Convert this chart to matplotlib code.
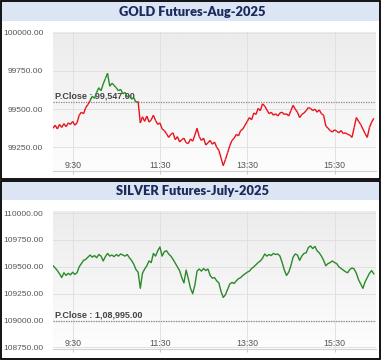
import numpy as np
import matplotlib
matplotlib.use("Agg")
import matplotlib.pyplot as plt
from matplotlib.collections import LineCollection
from matplotlib.patches import Rectangle

W, H = 384, 361

# ============================================================
# data
# ============================================================
# sample times: minutes after 9:00, one point every 3 minutes
minutes = np.arange(3, 3 + 3 * 148, 3)

gold_values = [
    99375, 99395, 99370, 99400, 99380, 99405, 99385, 99410, 99400, 99420,
    99395, 99410, 99460, 99480, 99470, 99510, 99530, 99555, 99585, 99570,
    99610, 99640, 99620, 99665, 99700, 99735, 99650, 99670, 99655, 99640,
    99620, 99630, 99600, 99610, 99580, 99590, 99565, 99575, 99545, 99550,
    99410, 99450, 99420, 99455, 99415, 99430, 99460, 99425, 99400, 99410,
    99370, 99360, 99340, 99315, 99335, 99345, 99300, 99320, 99285, 99300,
    99310, 99280, 99275, 99305, 99290, 99330, 99375, 99320, 99295, 99310,
    99265, 99280, 99295, 99270, 99285, 99250, 99230, 99180, 99130, 99170,
    99215, 99260, 99295, 99310, 99335, 99325, 99360, 99370, 99395, 99420,
    99445, 99430, 99475, 99465, 99505, 99490, 99535, 99520, 99495, 99470,
    99480, 99460, 99470, 99455, 99475, 99480, 99465, 99470, 99455, 99490,
    99525, 99500, 99480, 99445, 99465, 99475, 99490, 99510, 99505, 99490,
    99500, 99480, 99495, 99470, 99460, 99390, 99375, 99360, 99350, 99365,
    99355, 99345, 99360, 99340, 99345, 99335, 99330, 99315, 99380, 99445,
    99420, 99400, 99370, 99340, 99315, 99380, 99415, 99440,
]

silver_values = [
    109510, 109490, 109465, 109435, 109400, 109445, 109420, 109440, 109425, 109450,
    109430, 109445, 109500, 109530, 109560, 109570, 109590, 109610, 109590, 109605,
    109585, 109615, 109600, 109555, 109595, 109625, 109600, 109610, 109595, 109615,
    109600, 109620, 109610, 109600, 109615, 109585, 109560, 109525, 109475, 109450,
    109300, 109440, 109480, 109510, 109555, 109540, 109625, 109600, 109650, 109685,
    109600, 109640, 109650, 109620, 109600, 109570, 109535, 109500, 109465, 109400,
    109350, 109470, 109390, 109300, 109250, 109330, 109460, 109480, 109460, 109485,
    109465, 109480, 109420, 109395, 109400, 109370, 109350, 109270, 109215, 109240,
    109290, 109340, 109355, 109345, 109370, 109390, 109400, 109420, 109435, 109450,
    109460, 109485, 109500, 109520, 109540, 109555, 109580, 109620, 109600, 109615,
    109605, 109625, 109615, 109620, 109600, 109540, 109470, 109420, 109450, 109510,
    109590, 109620, 109610, 109560, 109600, 109625, 109630, 109680, 109695, 109670,
    109690, 109650, 109630, 109600, 109560, 109510, 109530, 109540, 109555, 109540,
    109530, 109500, 109485, 109470, 109455, 109445, 109475, 109490, 109480, 109440,
    109380, 109340, 109300, 109360, 109400, 109440, 109465, 109435,
]

gold_title = "GOLD Futures-Aug-2025"
silver_title = "SILVER Futures-July-2025"
gold_pclose = 99547
silver_pclose = 108995
gold_pclose_label = "P.Close : 99,547.00"
silver_pclose_label = "P.Close : 1,08,995.00"

time_ticks = [30, 150, 270, 390]
time_labels = ["9:30", "11:30", "13:30", "15:30"]

gold_yticks = [100000, 99750, 99500, 99250]
gold_ylabels = ["100000.00", "99750.00", "99500.00", "99250.00"]
silver_yticks = [110000, 109750, 109500, 109250, 109000, 108750]
silver_ylabels = ["110000.00", "109750.00", "109500.00", "109250.00",
                  "109000.00", "108750.00"]

RED = "#e8121c"
GREEN = "#2a8a2a"
TITLE_BG = "#dbe5f3"
TITLE_FG = "#1c2a5c"
SANS = ["Liberation Sans", "DejaVu Sans"]


def fx(px):
    return px / W


def fy(py):
    return 1 - py / H


def draw_panel(fig, top, bottom, title_bottom, ax_top, ax_bottom, title):
    # panel frame + title bar (pixel coords)
    fig.patches.append(Rectangle((fx(1), fy(title_bottom)), fx(379), (title_bottom - top) / H,
                                 transform=fig.transFigure, facecolor=TITLE_BG,
                                 edgecolor="none", zorder=0))
    fig.patches.append(Rectangle((fx(1), fy(bottom)), fx(379), (bottom - top) / H,
                                 transform=fig.transFigure, facecolor="none",
                                 edgecolor="black", linewidth=1.3, zorder=5))
    fig.text(fx(192), fy((top + title_bottom) / 2 + 0.5), title, ha="center", va="center",
             fontsize=9.3, fontweight="heavy", color=TITLE_FG, family=["Lato", "DejaVu Sans"])
    ax = fig.add_axes([fx(53), fy(ax_bottom), fx(376 - 53), (ax_bottom - ax_top) / H])
    # gray-to-white gradient background
    grad = np.linspace(0, 1, 100).reshape(-1, 1)
    ax.imshow(grad, extent=[0, 1, 0, 1], transform=ax.transAxes, aspect="auto",
              cmap=matplotlib.colors.LinearSegmentedColormap.from_list("bg", ["#fdfdfd", "#ececec"]),
              origin="lower", zorder=0)
    for s in ["top", "right", "left"]:
        ax.spines[s].set_visible(False)
    ax.spines["bottom"].set_color("#d0d0d0")
    ax.grid(True, color="#dedede", linewidth=0.6, zorder=1)
    ax.set_axisbelow(True)
    ax.set_xlim(3, 447)
    ax.set_xticks(time_ticks)
    ax.set_xticklabels(time_labels, family=SANS)
    ax.tick_params(axis="x", length=2.5, pad=-9.5, color="#cccccc", labelsize=6.3,
                   labelcolor="#555555")
    ax.tick_params(axis="y", length=0, pad=7, labelsize=6.0, labelcolor="#555555")
    return ax


fig = plt.figure(figsize=(W / 100, H / 100), dpi=100)
fig.patch.set_facecolor("white")

# ---------------- GOLD ----------------
ax1 = draw_panel(fig, 1, 179, 21, 32, 171, gold_title)
gv = np.array(gold_values, dtype=float)
pts = np.column_stack([minutes, gv]).reshape(-1, 1, 2)
segs = np.concatenate([pts[:-1], pts[1:]], axis=1)
seg_mid = (gv[:-1] + gv[1:]) / 2
cols = [GREEN if m > gold_pclose else RED for m in seg_mid]
ax1.add_collection(LineCollection(segs, colors=cols, linewidths=1.0, zorder=4))
ax1.axhline(gold_pclose, color="#888888", linestyle=(0, (1, 1)), linewidth=0.9, zorder=2)
ax1.text(6, gold_pclose + 12, gold_pclose_label, fontsize=6.5, fontweight="bold",
         color="#444444", va="bottom", ha="left", zorder=3, family=SANS)
ax1.set_ylim(99095, 100005)
ax1.set_yticks(gold_yticks)
ax1.set_yticklabels(gold_ylabels, family=SANS)

# ---------------- SILVER ----------------
ax2 = draw_panel(fig, 181, 359, 200, 211, 349, silver_title)
ax2.plot(minutes, silver_values, color=GREEN, linewidth=1.0, zorder=4)
ax2.axhline(silver_pclose, color="#888888", linestyle=(0, (1, 1)), linewidth=0.9, zorder=2)
ax2.text(6, silver_pclose + 18, silver_pclose_label, fontsize=6.5, fontweight="bold",
         color="#444444", va="bottom", ha="left", zorder=3, family=SANS)
ax2.set_ylim(108735, 110020)
ax2.set_yticks(silver_yticks)
ax2.set_yticklabels(silver_ylabels, family=SANS)

fig.savefig("out.png", dpi=100)
